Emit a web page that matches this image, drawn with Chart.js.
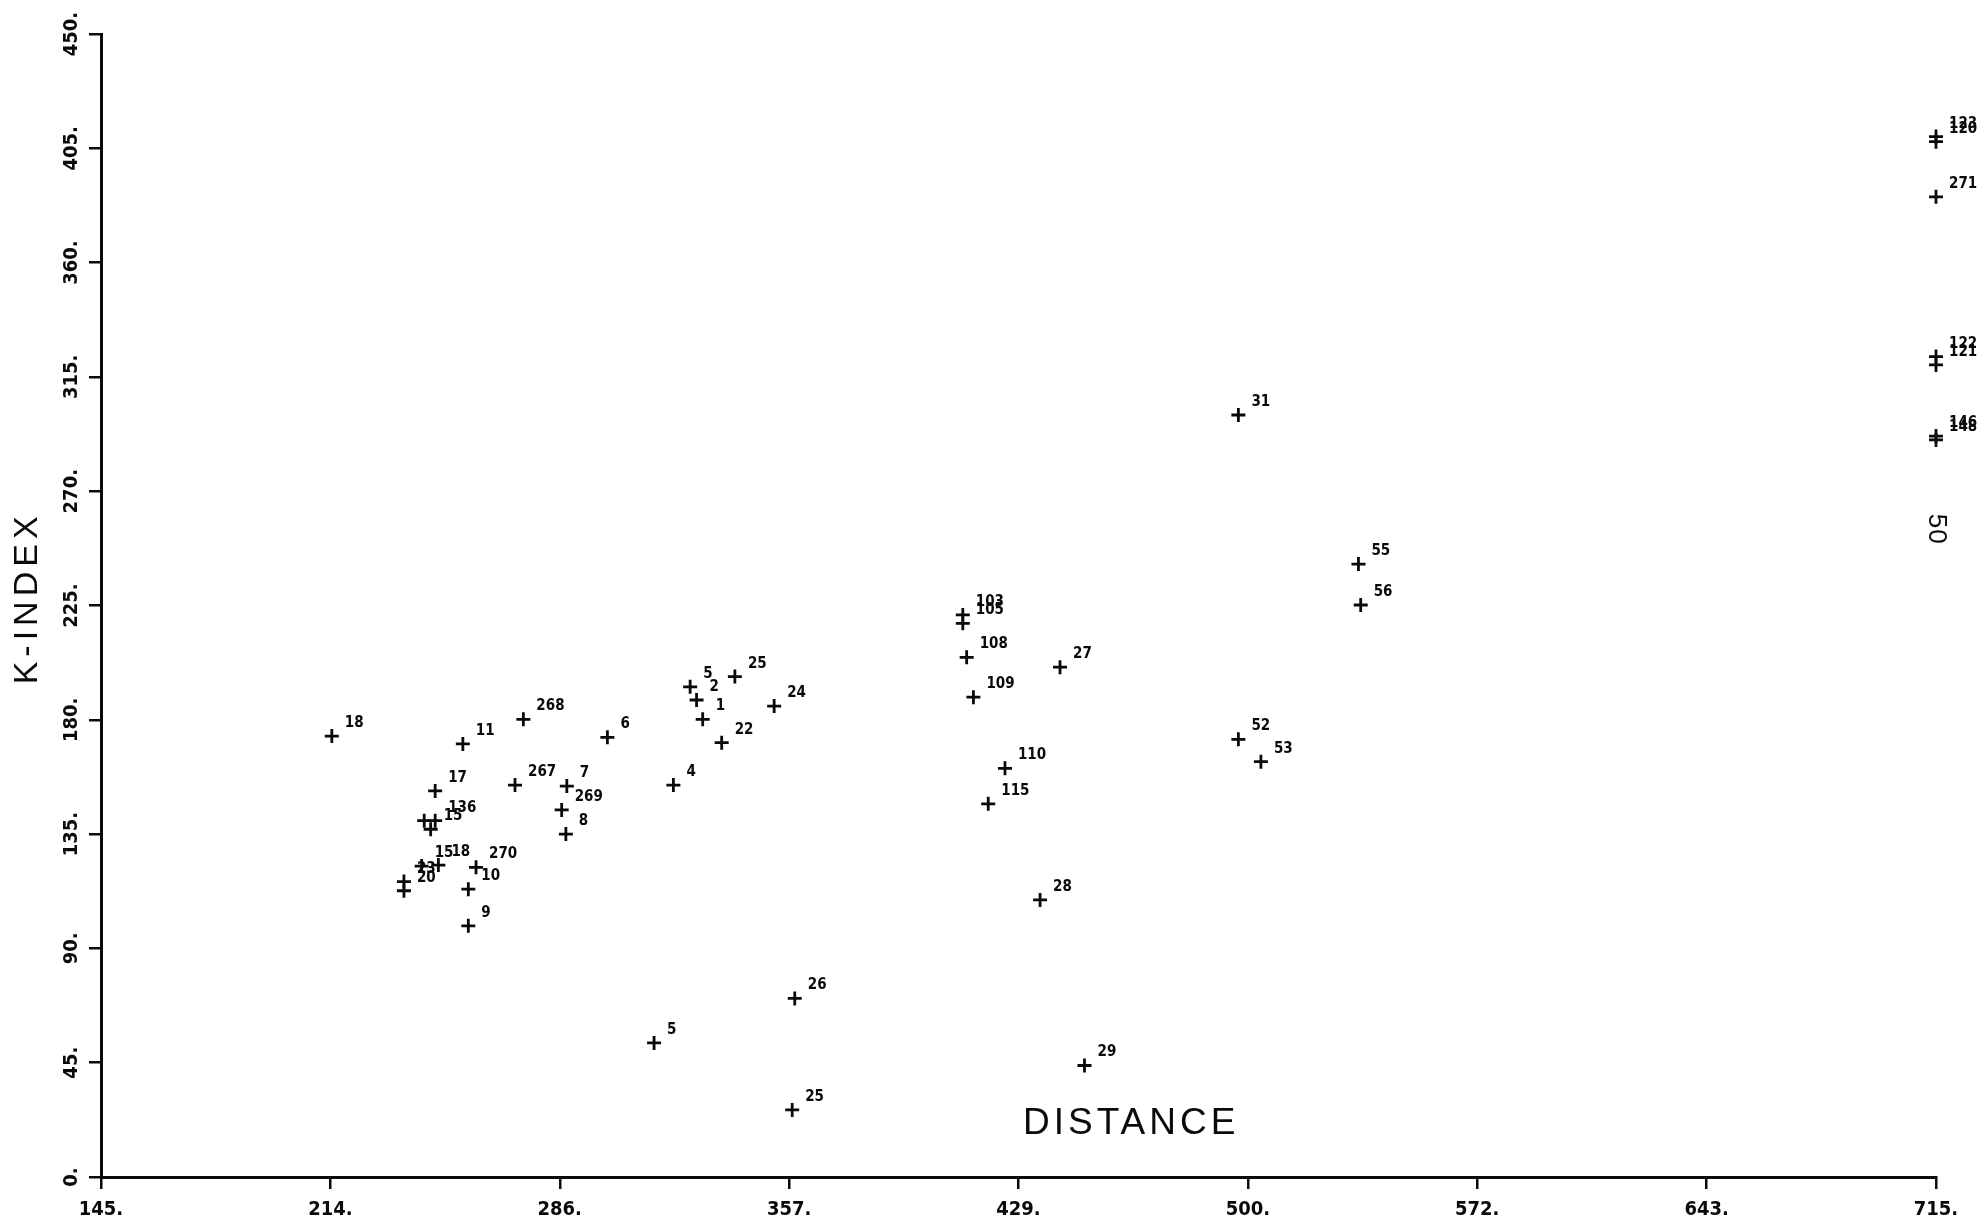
<!DOCTYPE html>
<html>
<head>
<meta charset="utf-8">
<title>K-Index vs Distance</title>
<script src="https://cdn.jsdelivr.net/npm/chart.js@4.4.0/dist/chart.umd.min.js"></script>
<style>
  html, body { margin: 0; padding: 0; background: #fff; }
  #wrap { width: 1984px; height: 1225px; position: relative; }
</style>
</head>
<body>
<div id="wrap"><canvas id="plot"></canvas></div>
<script>
// Station numbers printed next to each cross
const pointLabels = [
  '18', '11', '268', '6', '17', '267', '7', '269', '8', '', '136', '15',
  '15', '18', '23', '20', '270', '10', '9',
  '4', '5', '2', '1', '25', '22', '24',
  '103', '105', '108', '109', '27', '110', '115', '28',
  '52', '53', '31', '55', '56',
  '5', '26', '25', '29',
  '123', '120', '271', '122', '121', '146', '148'
];

const distance = [
  216.7, 257.4, 276.2, 302.3, 248.8, 273.6, 289.7, 288.1, 289.4, 245.4, 248.8, 247.4,
  244.6, 249.8, 239.1, 239.1, 261.5, 259.1, 259.1,
  322.8, 328.0, 330.0, 331.9, 341.9, 337.8, 354.1,
  412.7, 412.7, 413.9, 416.0, 442.9, 425.8, 420.6, 436.7,
  498.3, 505.3, 498.3, 535.6, 536.3,
  316.8, 360.5, 359.7, 450.5,
  715, 715, 715, 715, 715, 715, 715
];

const kIndex = [
  173.6, 170.5, 180.2, 173.1, 152.0, 154.3, 153.9, 144.5, 135.0, 140.3, 140.3, 136.9,
  122.4, 122.8, 116.3, 112.7, 121.9, 113.3, 98.9,
  154.3, 193.0, 187.8, 180.2, 197.0, 171.0, 185.4,
  221.3, 218.0, 204.6, 188.9, 200.7, 160.9, 146.9, 109.1,
  172.3, 163.5, 300.0, 241.3, 225.2,
  52.8, 70.3, 26.4, 43.9,
  409.6, 407.6, 385.9, 323.0, 319.7, 291.7, 290.2
];

const xTickLabels = ['145.', '214.', '286.', '357.', '429.', '500.', '572.', '643.', '715.'];
const yTickLabels = ['0.', '45.', '90.', '135.', '180.', '225.', '270.', '315.', '360.', '405.', '450.'];

const plotFont = '"DejaVu Sans Condensed", "Liberation Sans Narrow", "DejaVu Sans", sans-serif';
const titleFont = '"Liberation Sans", Arial, sans-serif';
const ink = '#0a0a0a';

// Labels, rotated y ticks and axis captions drawn straight onto the canvas
const plotText = {
  id: 'plotText',
  afterDraw(chart) {
    const ctx = chart.ctx;
    const xs = chart.scales.x;
    const ys = chart.scales.y;
    const meta = chart.getDatasetMeta(0);

    ctx.save();
    ctx.fillStyle = ink;

    // station numbers, up and to the right of each cross
    ctx.font = 'bold 15px ' + plotFont;
    ctx.textAlign = 'left';
    ctx.textBaseline = 'alphabetic';
    meta.data.forEach((pt, i) => {
      if (pointLabels[i]) ctx.fillText(pointLabels[i], pt.x + 13, pt.y - 9);
    });

    // y tick labels read bottom to top
    ctx.font = 'bold 20px ' + plotFont;
    ctx.textAlign = 'center';
    ctx.textBaseline = 'middle';
    yTickLabels.forEach((lbl, i) => {
      const py = ys.getPixelForValue(i * 45);
      ctx.save();
      ctx.translate(xs.left - 29, py);
      ctx.rotate(-Math.PI / 2);
      ctx.fillText(lbl, 0, 0);
      ctx.restore();
    });

    // axis captions
    ctx.font = '34px ' + titleFont;
    ctx.letterSpacing = '5px';
    ctx.save();
    ctx.translate(28, ys.getPixelForValue(228));
    ctx.rotate(-Math.PI / 2);
    ctx.textBaseline = 'middle';
    ctx.fillText('K-INDEX', 0, 0);
    ctx.restore();

    ctx.font = '37px ' + titleFont;
    ctx.letterSpacing = '4px';
    ctx.textBaseline = 'alphabetic';
    ctx.fillText('DISTANCE', xs.getPixelForValue(465), ys.getPixelForValue(17));

    // page number written down the right edge
    ctx.font = '26px ' + titleFont;
    ctx.letterSpacing = '1px';
    ctx.save();
    ctx.translate(xs.getPixelForValue(715), ys.getPixelForValue(255));
    ctx.rotate(Math.PI / 2);
    ctx.textBaseline = 'middle';
    ctx.fillText('50', 0, 0);
    ctx.restore();

    ctx.restore();
  }
};

const points = distance.map((d, i) => ({ x: d, y: kIndex[i] }));

new Chart(document.getElementById('plot'), {
  type: 'scatter',
  data: {
    datasets: [{
      data: points,
      pointStyle: 'cross',
      pointRadius: 7,
      pointHoverRadius: 7,
      pointBorderWidth: 2.8,
      borderColor: ink,
      backgroundColor: ink,
      clip: false
    }]
  },
  options: {
    responsive: true,
    maintainAspectRatio: false,
    animation: false,
    events: [],
    layout: { padding: { left: 101, right: 48, top: 34, bottom: 0 } },
    plugins: {
      legend: { display: false },
      tooltip: { enabled: false }
    },
    scales: {
      x: {
        type: 'linear',
        min: 145,
        max: 715,
        afterFit: (scale) => { scale.height = 48; },
        border: { display: true, color: ink, width: 3 },
        grid: { drawOnChartArea: false, drawTicks: true, tickLength: 12, lineWidth: 2.5, color: ink },
        ticks: {
          stepSize: 71.25,
          autoSkip: false,
          maxRotation: 0,
          padding: 9,
          color: ink,
          font: { family: plotFont, size: 20, weight: 'bold' },
          callback: (v, i) => xTickLabels[i]
        }
      },
      y: {
        type: 'linear',
        min: 0,
        max: 450,
        afterFit: (scale) => { scale.width = 0; },
        border: { display: true, color: ink, width: 3 },
        grid: { drawOnChartArea: false, drawTicks: true, tickLength: 12, lineWidth: 2.5, color: ink },
        ticks: { stepSize: 45, display: false }
      }
    }
  },
  plugins: [plotText]
});
</script>
</body>
</html>
